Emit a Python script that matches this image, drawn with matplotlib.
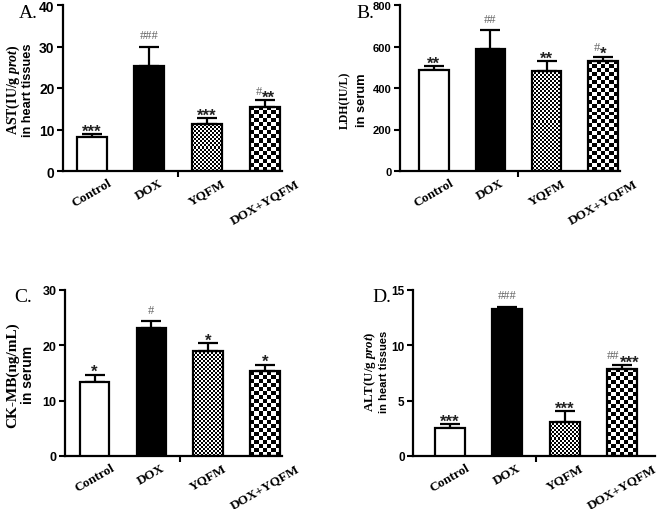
import numpy as np
import matplotlib
matplotlib.use("Agg")
import matplotlib.pyplot as plt

plt.rcParams["mathtext.fontset"] = "custom"
plt.rcParams["mathtext.it"] = "Liberation Serif:italic:bold"
plt.rcParams["mathtext.rm"] = "Liberation Serif:bold"

groups = ["Control", "DOX", "YQFM", "DOX+YQFM"]

# A. AST in heart tissues
ast_mean = [8.3, 25.4, 11.3, 15.5]
ast_err = [0.6, 4.6, 1.5, 1.5]
ast_hash = ["", "###", "", "#"]
ast_star = ["***", "", "***", "**"]

# B. LDH in serum
ldh_mean = [485, 588, 482, 532]
ldh_err = [19, 92, 48, 19]
ldh_hash = ["", "##", "", "#"]
ldh_star = ["**", "", "**", "*"]

# C. CK-MB in serum
ckmb_mean = [13.3, 23.2, 19.0, 15.3]
ckmb_err = [1.4, 1.2, 1.4, 1.2]
ckmb_hash = ["", "#", "", ""]
ckmb_star = ["*", "", "*", "*"]

# D. ALT in heart tissues
alt_mean = [2.5, 13.3, 3.1, 7.9]
alt_err = [0.4, 0.2, 0.95, 0.3]
alt_hash = ["", "###", "", "##"]
alt_star = ["***", "", "***", "***"]

W, H = 663, 510
fig = plt.figure(figsize=(W / 100, H / 100), dpi=100)

SERIF = "Liberation Serif"
SANS = "Liberation Sans"


def checker(ax, bar, cell):
    # checkerboard fill clipped to the bar
    x0, y0 = bar.get_x(), bar.get_y()
    w, h = bar.get_width(), bar.get_height()
    p0 = ax.transData.transform((x0, y0))
    p1 = ax.transData.transform((x0 + w, y0 + h))
    nx = max(1, int(round((p1[0] - p0[0]) / cell)))
    ny = max(1, int(round((p1[1] - p0[1]) / cell)))
    iy, ix = np.indices((ny, nx))
    img = (ix + iy) % 2
    im = ax.imshow(img, cmap="gray", vmin=0, vmax=1, extent=(x0, x0 + w, y0, y0 + h),
                   aspect="auto", interpolation="nearest", zorder=2)
    im.set_clip_path(bar)


def panel(rect, xlim, means, errs, hashes, stars, ymax, ystep, tick_fs,
          line1, line2, lab_x, lab_y, lab_fs, letter, letter_xy):
    l, t, r, b = rect
    ax = fig.add_axes([l / W, (H - b) / H, (r - l) / W, (b - t) / H])
    ax.set_xlim(*xlim)
    ax.set_ylim(0, ymax)
    x = np.arange(len(groups))
    bars = ax.bar(x, means, width=0.52, color=["white", "black", "none", "none"],
                  edgecolor="black", linewidth=1.6, zorder=3)
    checker(ax, bars[2], 2)
    checker(ax, bars[3], 4)
    ax.set_xlim(*xlim)
    ax.set_ylim(0, ymax)
    ax.errorbar(x, means, yerr=[np.zeros(len(errs)), errs], fmt="none", ecolor="black",
                elinewidth=1.6, capsize=7, capthick=1.6, zorder=2.5)

    for i in range(len(groups)):
        top = means[i] + errs[i]
        h, s = hashes[i], stars[i]
        if h and s:
            ax.annotate(h, (x[i], top), xytext=(-2, 5), textcoords="offset points",
                        ha="right", va="baseline", fontsize=9, color="#666666", family=SERIF)
            ax.annotate(s, (x[i], top), xytext=(-2, -1), textcoords="offset points",
                        ha="left", va="baseline", fontsize=12, fontweight="bold",
                        color="#222222", family=SANS)
        elif h:
            ax.annotate(h, (x[i], top), xytext=(0, 6), textcoords="offset points",
                        ha="center", va="baseline", fontsize=9, color="#666666", family=SERIF)
        elif s:
            ax.annotate(s, (x[i], top), xytext=(0, -1), textcoords="offset points",
                        ha="center", va="baseline", fontsize=12, fontweight="bold",
                        color="#222222", family=SANS)

    for side in ["top", "right"]:
        ax.spines[side].set_visible(False)
    for side in ["left", "bottom"]:
        ax.spines[side].set_linewidth(1.6)

    ax.set_yticks(np.arange(0, ymax + ystep / 2, ystep))
    ax.tick_params(axis="y", width=1.5, length=4, direction="out", pad=2)
    for tl in ax.get_yticklabels():
        tl.set_fontfamily(SANS)
        tl.set_fontweight("bold")
        tl.set_fontsize(tick_fs)

    ax.set_xticks(x)
    ax.set_xticklabels(groups, rotation=30, ha="center", family=SERIF,
                       fontweight="bold", fontsize=9.5)
    ax.tick_params(axis="x", which="major", length=0, pad=4)
    ax.set_xticks([1.5], minor=True)
    ax.tick_params(axis="x", which="minor", length=4, width=1.5, direction="out")

    ax.text((lab_x[0] - l) / (r - l), (b - lab_y) / (b - t), line1, transform=ax.transAxes,
            rotation=90, ha="center", va="center", family=SERIF, fontweight="bold",
            fontsize=lab_fs[0])
    ax.text((lab_x[1] - l) / (r - l), (b - lab_y) / (b - t), line2, transform=ax.transAxes,
            rotation=90, ha="center", va="center", family=SANS, fontweight="bold",
            fontsize=lab_fs[1])
    fig.text(letter_xy[0] / W, 1 - letter_xy[1] / H, letter, ha="center", va="center",
             family=SERIF, fontsize=14)
    return ax


panel((63, 6, 282, 172), (-0.5, 3.3), ast_mean, ast_err, ast_hash, ast_star, 40, 10, 10,
      r"AST(IU/g $\mathit{prot}$)", "in heart tissues", (13, 28), 90, (10, 9.2),
      "A.", (28, 13))
panel((400, 6, 620, 172), (-0.6, 3.3), ldh_mean, ldh_err, ldh_hash, ldh_star, 800, 200, 8,
      "LDH(IU/L)", "in serum", (345, 362), 100, (8.5, 9.3), "B.", (365, 13))
panel((65, 291, 282, 457), (-0.52, 3.3), ckmb_mean, ckmb_err, ckmb_hash, ckmb_star, 30, 10, 9,
      "CK-MB(ng/mL)", "in serum", (13, 28), 375, (11, 10), "C.", (23, 297))
panel((413, 291, 655, 457), (-0.64, 3.57), alt_mean, alt_err, alt_hash, alt_star, 15, 5, 8.5,
      r"ALT(U/g $\mathit{prot}$)", "in heart tissues", (370, 384), 372, (9.3, 8),
      "D.", (382, 297))

fig.savefig("out.png", dpi=100)
